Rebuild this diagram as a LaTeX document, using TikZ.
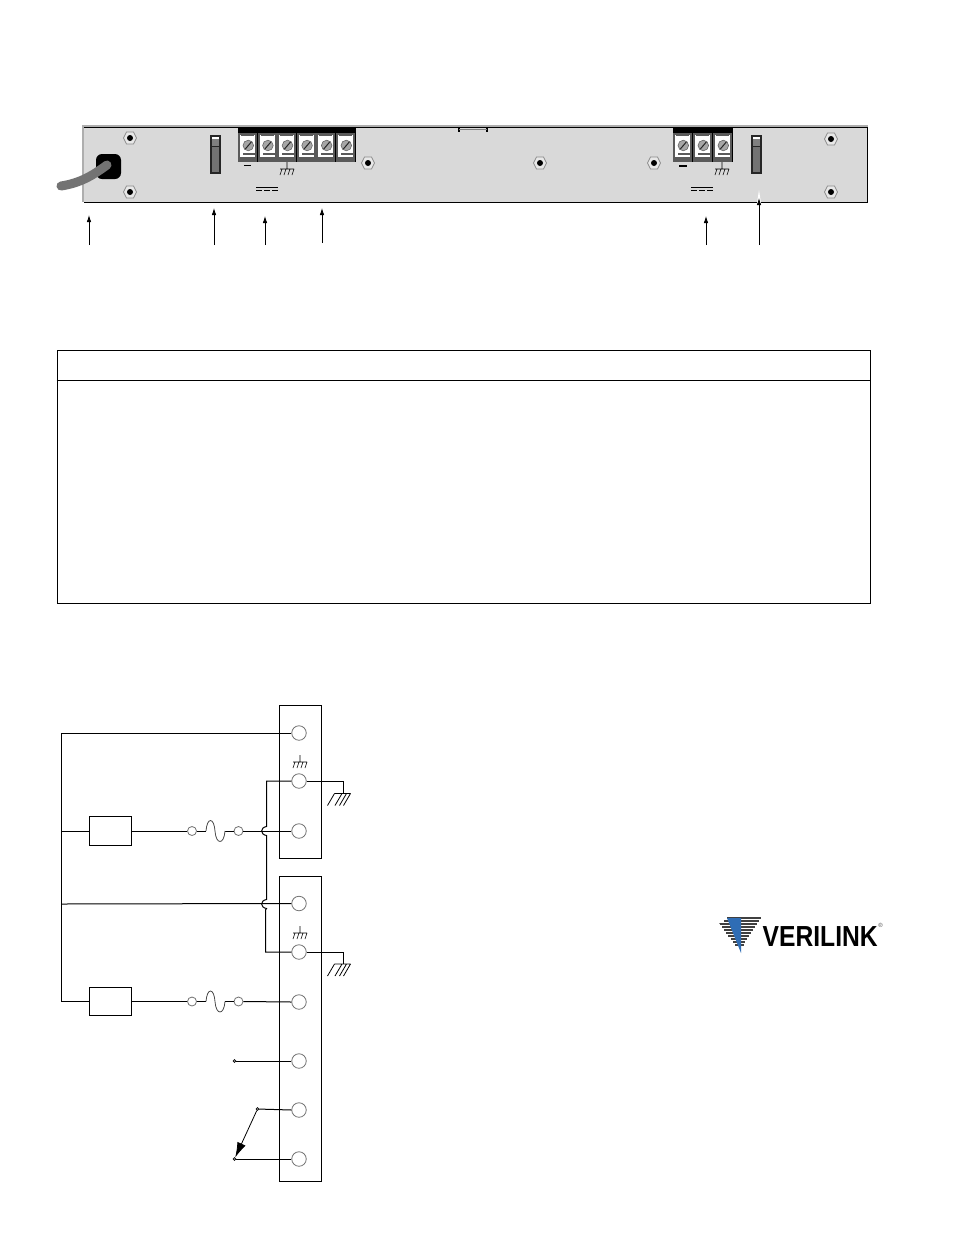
\documentclass[tikz,border=0pt]{standalone}
\usepackage{fontspec}
\setmainfont{Liberation Sans}
\usetikzlibrary{arrows.meta}
\definecolor{panel}{HTML}{D9D9D9}
\definecolor{edge}{HTML}{8C8C8C}
\definecolor{cell}{HTML}{5A5A5A}
\definecolor{vblue}{HTML}{2F6DB5}
\tikzset{
  wire/.style={line width=1pt,black},
  thin wire/.style={line width=.6pt,black},
  term/.style={circle,draw=black!55,line width=.8pt,fill=white,minimum size=14.5pt,inner sep=0pt},
  smallterm/.style={circle,draw=black!55,line width=.8pt,fill=white,minimum size=9pt,inner sep=0pt},
  dot/.style={circle,draw=black,line width=.5pt,fill=black!40,minimum size=3pt,inner sep=0pt},
  strip/.style={rectangle,draw=black,line width=1pt,fill=white,minimum width=42pt,inner sep=0pt},
  ballast/.style={rectangle,draw=black,line width=1pt,fill=white,minimum width=42.5pt,minimum height=28.5pt,inner sep=0pt},
  callout/.style={line width=.8pt,black,-{Latex[length=7pt,width=4.5pt]}},
}
% panel hardware
\newcommand{\HexNut}[2]{%
  \draw[edge,line width=.8pt,fill=panel!60!white] (#1-6.5,#2) -- (#1-3.5,#2-6) -- (#1+3.5,#2-6) -- (#1+6.5,#2) -- (#1+3.5,#2+6) -- (#1-3.5,#2+6) -- cycle;
  \fill[black] (#1,#2) circle (3pt);}
\newcommand{\Cell}[1]{%
  \fill[cell] (#1,133) rectangle (#1+19,162);
  \fill[white] (#1+2,135) rectangle (#1+17,156.5);
  \fill[cell] (#1+3,133) rectangle (#1+16,136);
  \fill[cell] (#1+5,153) rectangle (#1+17,155);
  \draw[black,line width=.5pt] (#1+19.2,133) -- (#1+19.2,162);
  \draw[black!60,fill=black!35,line width=.6pt] (#1+10.3,145.5) circle (5.3pt);
  \draw[black!85,line width=1pt] (#1+7.3,149) -- (#1+13.3,142);}
\newcommand{\SlideSwitch}[1]{%
  \fill[black!85] (#1,135) rectangle (#1+11,174);
  \fill[black!55] (#1+2,147) rectangle (#1+9,172);
  \fill[white] (#1+2,137) rectangle (#1+9,139);
  \fill[black!50] (#1+2,139) rectangle (#1+9,146);}
\newcommand{\DCmark}[1]{%
  \draw[black,line width=.7pt] (#1,187) -- (#1+22,187);
  \draw[black,line width=.7pt,dash pattern=on 6pt off 2pt] (#1,190) -- (#1+22,190);}
\newcommand{\SmallGround}[2]{%
  \draw[black,line width=.6pt] (#1,#2) -- (#1,#2+7)
    (#1-7,#2+7) -- (#1+7,#2+7)
    (#1-5,#2+7) -- (#1-7,#2+13) (#1-1,#2+7) -- (#1-3,#2+13)
    (#1+3,#2+7) -- (#1+1,#2+13) (#1+7,#2+7) -- (#1+5,#2+13);}
\newcommand{\EarthMark}[2]{%
  \draw[black,line width=.8pt] (#1-8.5,#2) -- (#1+7.5,#2)
    (#1-1,#2) -- (#1-8,#2+12) (#1+3.5,#2) -- (#1-3.5,#2+12)
    (#1+7.5,#2) -- (#1+.5,#2+12) (#1-8.5,#2) -- (#1-15.5,#2+12);}
\newcommand{\FuseCurve}[2]{%
  \draw[black!70,line width=.8pt] (#1,#2) .. controls (#1+1,#2-14) and (#1+8,#2-14) .. (#1+9,#2)
     .. controls (#1+10,#2+14) and (#1+18,#2+14) .. (#1+19,#2);}
\begin{document}
\begin{tikzpicture}[x=1pt,y=-1pt]
\useasboundingbox (0,0) rectangle (954,1235);
\fill[white] (0,0) rectangle (954,1235);

% ---- rear panel
\fill[edge!70] (82,125) rectangle (868,127);
\fill[edge!70] (82,125) rectangle (84,202);
\fill[panel] (84,127) rectangle (867,202);
\draw[black,line width=1pt] (84,127.5) -- (867,127.5) -- (867,202) -- (84,202);
\draw[black,line width=2pt] (459,127) -- (459,132) (487,127) -- (487,132);
\draw[black!50,line width=.5pt] (459,129) -- (487,129);
\foreach \x/\y in {130/138,130/192,368/163,540/163,654/163,831/139,831/192}{\HexNut{\x}{\y}}
% cord
\fill[black,rounded corners=6pt] (96,154) rectangle (121,179);
\draw[black!55,line width=9pt,line cap=round] (61,186) .. controls (80,183) and (92,176) .. (107,165);
% left terminal group
\fill[black] (238,128) rectangle (356,133);
\foreach \x in {238,257.6,277.2,296.8,316.4,336}{\Cell{\x}}
\draw[black,line width=.8pt] (244,165) -- (251,165);
\SmallGround{287}{162}
\DCmark{256}
\SlideSwitch{210}
% right terminal group
\fill[black] (673,128) rectangle (733,133);
\foreach \x in {673,693,713}{\Cell{\x}}
\draw[black,line width=1.6pt] (679,166) -- (687,166);
\SmallGround{722}{162}
\DCmark{691}
\SlideSwitch{751}

% callouts
\coordinate (c1a) at (89,245); \coordinate (c1b) at (89,215);
\coordinate (c2a) at (214,245); \coordinate (c2b) at (214,208);
\coordinate (c3a) at (265,245); \coordinate (c3b) at (265,216);
\coordinate (c4a) at (322,243); \coordinate (c4b) at (322,208);
\coordinate (c5a) at (706,245); \coordinate (c5b) at (706,216);
\coordinate (c6a) at (759,245); \coordinate (c6b) at (759,198);
\fill[white] (757,203) -- (759,190) -- (761,203) -- cycle;
\foreach \n in {1,...,6}{\draw[callout] (c\n a) -- (c\n b);}

% ---- empty table
\node[rectangle,draw=black,line width=1pt,minimum width=813pt,minimum height=253pt,inner sep=0pt,anchor=north west] (tbl) at (56.5,349.5) {};
\coordinate (hdrL) at (56.5,380.5); \coordinate (hdrR) at (869.5,380.5);
\draw[wire] (hdrL) -- (hdrR);

% ---- wiring
\node[strip,minimum height=153.5pt,anchor=north west] (stripA) at (278.5,704.5) {};
\node[strip,minimum height=305pt,anchor=north west] (stripB) at (278.5,875.5) {};

\foreach \n/\y in {a1/733,a2/781,a3/831,b1/903.5,b2/952,b3/1002,b4/1061,b5/1110,b6/1159}{
  \node[term] (\n) at (299,\y) {};}
\node[ballast] (loadA) at (110.5,831) {};
\node[ballast] (loadB) at (110.5,1001.5) {};
\foreach \n/\x/\y in {fa1/192/831,fa2/238.5/831,fb1/192/1001.5,fb2/238.5/1001.5}{
  \node[smallterm] (\n) at (\x,\y) {};}
\node[dot] (d1) at (234.5,1061) {};
\node[dot] (d2) at (257.5,1109) {};
\node[dot] (d3) at (234.5,1159) {};

% bus
\coordinate (busT) at (61.5,733);
\coordinate (busA) at (61.5,831);
\coordinate (busM) at (61.5,904);
\coordinate (busB) at (61.5,1001.5);
\draw[wire] (a1.west) -- (busT) -- (busB) -- (loadB.west);
\draw[wire] (busA) -- (loadA.west);
% series lines
\draw[wire] (loadA.east) -- (fa1.west);
\draw[wire] (loadB.east) -- (fb1.west);
\coordinate (fuA1) at (206,831); \coordinate (fuA2) at (225,831);
\coordinate (fuB1) at (206,1001.5); \coordinate (fuB2) at (225,1001.5);
\draw[wire] (fa1.east) -- (fuA1) (fuA2) -- (fa2.west);
\draw[wire] (fb1.east) -- (fuB1) (fuB2) -- (fb2.west);
\FuseCurve{206}{831}
\FuseCurve{206}{1001.5}
\draw[wire] (fa2.east) -- (a3.west);
\draw[wire] (fb2.east) -- (b3.west);
\draw[wire] (busM) -- (b1.west);
% return with hops
\coordinate (rT) at (266.5,781);
\coordinate (h1a) at (266.5,826.5); \coordinate (h1b) at (266.5,835.5);
\coordinate (h2a) at (266.5,899.5); \coordinate (h2b) at (266.5,908.5);
\coordinate (rB) at (265.5,952);
\draw[wire] (a2.west) -- (rT) -- (h1a) .. controls (260,827.5) and (260,834.5) .. (h1b) -- (h2a)
  .. controls (260,900.5) and (260,907.5) .. (h2b) -- (265.5,910) -- (rB) -- (b2.west);
% earth
\coordinate (eA) at (343.5,781); \coordinate (eAb) at (343.5,793.5);
\coordinate (eB) at (343.5,952); \coordinate (eBb) at (343.5,964);
\draw[wire] (a2.east) -- (eA) -- (eAb);
\draw[wire] (b2.east) -- (eB) -- (eBb);
\EarthMark{343}{793.5}
\EarthMark{343}{964}
\SmallGround{300}{755}
\SmallGround{300}{926}
% alarm contacts
\draw[wire] (d1) -- (b4.west);
\draw[wire] (d2) -- (b5.west);
\draw[wire] (d3) -- (b6.west);
\draw[line width=.8pt,-{Latex[length=15pt,width=9pt]}] (d2) -- (d3);

% ---- logo
\fill[black!45] (719,923) -- (731,923) -- (731,924) -- (719,924) -- cycle;
\foreach \y/\a/\b in {918/727/761,921/724/759,924/720/757,927/722/755,930/724/753,933/726/751,936/728/749,939/731/747,942/733/745,945/735/744}{
  \draw[black!75,line width=1.3pt] (\a,\y) -- (\b,\y);}
\fill[vblue] (727,918) -- (741,918) -- (741,953) -- cycle;
\node[inner sep=0pt,anchor=west,font=\bfseries\fontsize{29}{29}\selectfont,xscale=.85] (vlogo) at (762.5,936.5) {VERILINK};
\node[inner sep=0pt,font=\fontsize{6}{6}\selectfont,text=black!70] (vreg) at (880.5,925.5) {®};
\end{tikzpicture}
\end{document}
